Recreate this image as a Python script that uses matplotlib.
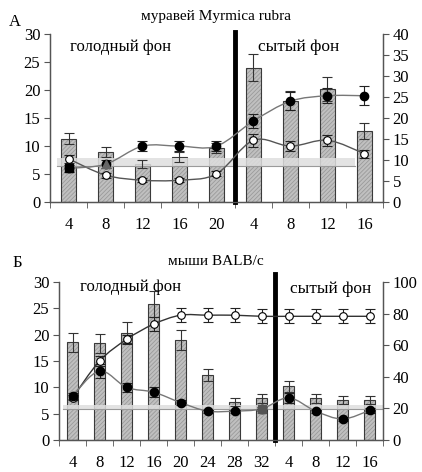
import numpy as np
import matplotlib
matplotlib.use('Agg')
import matplotlib.pyplot as plt
from matplotlib.path import Path
from matplotlib.patches import PathPatch

plt.rcParams['font.family'] = ['Liberation Serif', 'DejaVu Serif']
plt.rcParams['hatch.linewidth'] = 0.6

# panel A - ants
labels_a = ['4', '8', '12', '16', '20', '4', '8', '12', '16']
bars_a = [11.3, 9.0, 6.8, 8.0, 9.7, 24.0, 18.1, 20.2, 12.7]
bars_a_err = [1.0, 0.9, 0.7, 0.9, 0.9, 2.4, 1.7, 2.1, 1.4]
black_a = [8.0, 9.0, 13.3, 13.3, 13.3, 19.3, 24.0, 25.3, 25.3]
black_a_err = [0.9, 0.9, 1.2, 1.2, 1.2, 1.6, 2.2, 1.8, 2.2]
white_a = [10.3, 6.4, 5.2, 5.2, 6.7, 14.7, 13.3, 14.7, 11.5]
white_a_err = [1.0, 0.6, 0.5, 0.5, 0.6, 1.5, 1.2, 1.3, 1.0]
band_a = [6.5, 7.8]

# panel B - mice
labels_b = ['4', '8', '12', '16', '20', '24', '28', '32', '4', '8', '12', '16']
bars_b = [18.6, 18.4, 20.4, 25.8, 19.0, 12.3, 7.2, 7.9, 10.2, 7.9, 7.6, 7.6]
bars_b_err = [1.8, 1.8, 2.0, 2.5, 1.9, 1.1, 0.7, 0.9, 1.0, 0.8, 0.7, 0.8]
white_b = [26.7, 50.0, 63.7, 73.3, 79.0, 79.0, 79.0, 78.3, 78.3, 78.3, 78.3, 78.3]
white_b_err = [1.5, 3.0, 3.0, 4.5, 4.5, 4.5, 4.5, 4.5, 4.5, 4.5, 4.5, 4.5]
black_b = [28.0, 43.7, 33.3, 30.3, 23.7, 18.3, 18.3, 19.7, 26.7, 18.3, 13.3, 18.7]
black_b_err = [2.0, 4.5, 3.0, 3.0, 1.5, 1.0, 1.0, 1.5, 3.0, 1.0, 1.0, 1.5]
band_b = [5.8, 6.7]


def smooth_line(ax, x, y, color):
    # catmull-rom style bezier through the points (like excel smoothed lines)
    x = np.asarray(x, float)
    y = np.asarray(y, float)
    pts = np.column_stack([x, y])
    verts = [pts[0]]
    codes = [Path.MOVETO]
    n = len(pts)
    for i in range(n - 1):
        p0 = pts[i - 1] if i > 0 else pts[i]
        p3 = pts[i + 2] if i + 2 < n else pts[i + 1]
        c1 = pts[i] + (pts[i + 1] - p0) / 6.0
        c2 = pts[i + 1] - (p3 - pts[i]) / 6.0
        verts += [c1, c2, pts[i + 1]]
        codes += [Path.CURVE4] * 3
    ax.add_patch(PathPatch(Path(verts, codes), fill=False, edgecolor=color, lw=1.0, zorder=3))


def panel(rect, labels, bars, bars_err, white, white_err, black, black_err, band,
          band_x, ymax2, split, line_top, white_color, black_color):
    ax = fig.add_axes(rect)
    ax2 = ax.twinx()
    x = np.arange(len(labels))

    ax.bar(x, bars, width=0.42, color='#c0c0c0', hatch='////////', edgecolor='#9a9a9a', lw=0, zorder=2)
    ax.bar(x, bars, width=0.42, fill=False, edgecolor='#3a3a3a', lw=0.8, zorder=2)
    ax.errorbar(x, bars, yerr=bars_err, fmt='none', ecolor='#333333', elinewidth=0.8, capsize=3.3, capthick=0.8, zorder=3)

    ax.fill_between(band_x, band[0], band[1], color='#dedede', alpha=0.85, lw=0, zorder=2.5)
    ax.plot(band_x, [band[0], band[0]], color='#9a9a9a', lw=0.8, zorder=2.5)

    ax.plot([split, split], [0, line_top], color='black', lw=3.5, clip_on=False, zorder=6)

    smooth_line(ax2, x, white, white_color)
    smooth_line(ax2, x, black, black_color)
    ax2.errorbar(x, white, yerr=white_err, fmt='none', ecolor='#222222', elinewidth=0.8, capsize=3.3, capthick=0.8, zorder=4)
    ax2.errorbar(x, black, yerr=black_err, fmt='none', ecolor='#222222', elinewidth=0.8, capsize=3.3, capthick=0.8, zorder=4)
    ax2.plot(x, white, 'o', ms=5.5, mfc='white', mec='black', mew=0.8, zorder=5)
    ax2.plot(x, black, 'o', ms=6, mfc='black', mec='black', zorder=5)

    ax.set_xlim(-0.5, len(labels) - 0.5)
    ax.set_ylim(0, 30)
    ax.set_yticks(range(0, 31, 5))
    ax2.set_ylim(0, ymax2)
    ax.set_xticks(x)
    ax.set_xticklabels(labels)
    ax.set_xticks(np.arange(len(labels) + 1) - 0.5, minor=True)
    ax.tick_params(axis='x', which='major', length=0, pad=11, labelsize=12)
    ax.tick_params(axis='x', which='minor', length=4, color='#555555', direction='out')
    ax.tick_params(axis='y', length=4, color='#555555', labelsize=12, pad=3)
    ax2.tick_params(axis='y', length=4, color='#555555', labelsize=12, pad=3)
    for a in (ax, ax2):
        a.spines['top'].set_visible(False)
        for s in ('left', 'right', 'bottom'):
            a.spines[s].set_color('#555555')
            a.spines[s].set_linewidth(0.9)
    return ax, ax2


fig = plt.figure(figsize=(4.22, 4.72), dpi=100)

axA, axA2 = panel([0.1185, 0.572, 0.789, 0.356], labels_a, bars_a, bars_a_err,
                  white_a, white_a_err, black_a, black_a_err, band_a, [-0.3, 7.75],
                  40, 4.5, 30.4, '#555555', '#777777')
axA2.set_yticks(range(0, 41, 5))
axA2.plot([0], [black_a[0]], 's', ms=5.5, color='black', zorder=6)
axA2.plot([1], [black_a[1]], '^', ms=5.5, color='#666666', zorder=6)

axB, axB2 = panel([0.14, 0.0678, 0.7676, 0.3347], labels_b, bars_b, bars_b_err,
                  white_b, white_b_err, black_b, black_b_err, band_b, [-0.35, 11.6],
                  100, 7.5, 31.5, '#333333', '#777777')
axB2.set_yticks(range(0, 101, 20))
axB2.plot([7], [black_b[7]], 's', ms=5.5, color='#555555', zorder=6)

fig.text(0.512, 0.966, 'муравей Myrmica rubra', ha='center', va='center', fontsize=11)
fig.text(0.022, 0.953, 'А', ha='left', va='center', fontsize=12)
fig.text(0.166, 0.900, 'голодный фон', ha='left', va='center', fontsize=12)
fig.text(0.612, 0.900, 'сытый фон', ha='left', va='center', fontsize=12.5)

fig.text(0.512, 0.445, 'мыши BALB/c', ha='center', va='center', fontsize=11)
fig.text(0.030, 0.443, 'Б', ha='left', va='center', fontsize=12)
fig.text(0.190, 0.393, 'голодный фон', ha='left', va='center', fontsize=12)
fig.text(0.687, 0.388, 'сытый фон', ha='left', va='center', fontsize=12.5)

fig.savefig('out.png', dpi=100)
